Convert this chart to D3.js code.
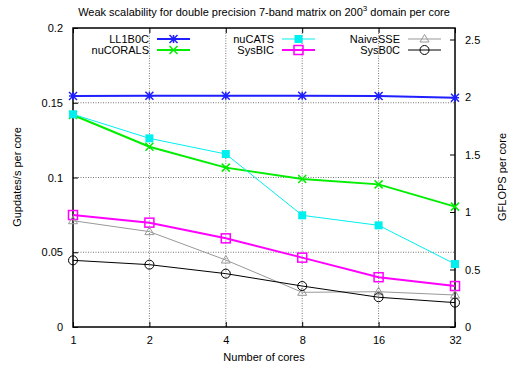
<!DOCTYPE html>
<html>
<head>
<meta charset="utf-8">
<script src="https://cdn.jsdelivr.net/npm/d3@7"></script>
<style>
  body { margin: 0; background: #fff; }
  svg { display: block; font-family: "Liberation Sans", Arial, sans-serif; }
</style>
</head>
<body>
<svg id="chart" width="508" height="367"></svg>
<script>
// Cores used in the weak scaling runs
const cores = [1, 2, 4, 8, 16, 32];

// Gupdates/s per core for each kernel
const ll1b0c   = [0.1545, 0.1547, 0.1547, 0.1547, 0.1545, 0.1534];
const nucorals = [0.1418, 0.1206, 0.1066, 0.0990, 0.0954, 0.0805];
const nucats   = [0.1423, 0.1262, 0.1157, 0.0747, 0.0680, 0.0421];
const sysbic   = [0.0749, 0.0698, 0.0593, 0.0464, 0.0333, 0.0274];
const naivesse = [0.0711, 0.0638, 0.0448, 0.0232, 0.0236, 0.0214];
const sysb0c   = [0.0446, 0.0417, 0.0357, 0.0274, 0.0199, 0.0163];

const leftTicks = [0, 0.05, 0.1, 0.15, 0.2];
const rightTicks = [0, 0.5, 1, 1.5, 2, 2.5];

const series = [
  { name: "LL1B0C",   values: ll1b0c,   color: "#1f1fff", width: 2,   marker: "star" },
  { name: "nuCORALS", values: nucorals, color: "#00ee00", width: 2,   marker: "cross" },
  { name: "nuCATS",   values: nucats,   color: "#00f0f0", width: 1,   marker: "fsquare" },
  { name: "SysBIC",   values: sysbic,   color: "#ff00ff", width: 2,   marker: "square" },
  { name: "NaiveSSE", values: naivesse, color: "#999999", width: 1,   marker: "triangle" },
  { name: "SysB0C",   values: sysb0c,   color: "#000000", width: 1,   marker: "circle" }
];

const svg = d3.select("#chart");
const L = 73, R = 455, T = 28, B = 327;

const x = d3.scaleLog().base(2).domain([1, 32]).range([L, R]);
const y = d3.scaleLinear().domain([0, 0.2]).range([B, T]);
const y2 = d3.scaleLinear().domain([0, 2.6]).range([B, T]);

// Grid lines (dotted)
const grid = svg.append("g").attr("stroke", "#777").attr("stroke-width", 1)
  .attr("stroke-dasharray", "1,1.5");
cores.slice(1, -1).forEach(c => {
  grid.append("line").attr("x1", x(c)).attr("x2", x(c)).attr("y1", T).attr("y2", B);
});
leftTicks.slice(1, -1).forEach(v => {
  grid.append("line").attr("x1", L).attr("x2", R).attr("y1", y(v)).attr("y2", y(v));
});

// Axes with inward ticks
const fontSize = 11;
const axB = svg.append("g").attr("transform", `translate(0,${B})`)
  .call(d3.axisBottom(x).tickValues(cores).tickFormat(d3.format("d")).tickSizeInner(-5).tickSizeOuter(0).tickPadding(9));
const axT = svg.append("g").attr("transform", `translate(0,${T})`)
  .call(d3.axisTop(x).tickValues(cores).tickFormat("").tickSizeInner(-5).tickSizeOuter(0));
const axL = svg.append("g").attr("transform", `translate(${L},0)`)
  .call(d3.axisLeft(y).tickValues(leftTicks).tickFormat(d => d === 0 ? "0" : String(d)).tickSizeInner(-5).tickSizeOuter(0).tickPadding(10));
const axR = svg.append("g").attr("transform", `translate(${R},0)`)
  .call(d3.axisRight(y2).tickValues(rightTicks).tickFormat(d => String(d)).tickSizeInner(-5).tickSizeOuter(0).tickPadding(10));

[axB, axT, axL, axR].forEach(a => {
  a.select(".domain").remove();
  a.selectAll("line").attr("stroke", "#000");
  a.selectAll("text").attr("font-size", fontSize).attr("font-family", "Liberation Sans, Arial, sans-serif").attr("fill", "#000");
});

// Plot border
svg.append("rect").attr("x", L).attr("y", T).attr("width", R - L).attr("height", B - T)
  .attr("fill", "none").attr("stroke", "#000").attr("stroke-width", 1.5);

// Marker drawing
function drawMarker(g, m, cx, cy, color) {
  const s = 4;
  if (m === "star") {
    const p = `M${cx - s},${cy}L${cx + s},${cy}M${cx},${cy - s}L${cx},${cy + s}M${cx - s},${cy - s}L${cx + s},${cy + s}M${cx - s},${cy + s}L${cx + s},${cy - s}`;
    g.append("path").attr("d", p).attr("stroke", color).attr("stroke-width", 1.5).attr("fill", "none");
  } else if (m === "cross") {
    const p = `M${cx - s},${cy - s}L${cx + s},${cy + s}M${cx - s},${cy + s}L${cx + s},${cy - s}`;
    g.append("path").attr("d", p).attr("stroke", color).attr("stroke-width", 1.5).attr("fill", "none");
  } else if (m === "fsquare") {
    g.append("rect").attr("x", cx - 4).attr("y", cy - 4).attr("width", 8).attr("height", 8).attr("fill", color);
  } else if (m === "square") {
    g.append("rect").attr("x", cx - 4.5).attr("y", cy - 4.5).attr("width", 9).attr("height", 9)
      .attr("fill", "none").attr("stroke", color).attr("stroke-width", 1.5);
  } else if (m === "triangle") {
    g.append("path").attr("d", `M${cx},${cy - 4.5}L${cx + 4.5},${cy + 3}L${cx - 4.5},${cy + 3}Z`)
      .attr("fill", "none").attr("stroke", color).attr("stroke-width", 1);
  } else if (m === "circle") {
    g.append("circle").attr("cx", cx).attr("cy", cy).attr("r", 4.5)
      .attr("fill", "none").attr("stroke", color).attr("stroke-width", 1);
  }
}

// Series lines and markers
const line = d3.line().x((d, i) => x(cores[i])).y(d => y(d));
series.forEach(s => {
  const g = svg.append("g");
  g.append("path").attr("d", line(s.values)).attr("fill", "none")
    .attr("stroke", s.color).attr("stroke-width", s.width);
  s.values.forEach((v, i) => drawMarker(g, s.marker, x(cores[i]), y(v), s.color));
});

// Legend: three columns of two entries
const legendCols = [149, 274, 400];
const legendRows = [39, 50];
series.forEach((s, i) => {
  const col = Math.floor(i / 2), row = i % 2;
  const tx = legendCols[col], ty = legendRows[row];
  const g = svg.append("g");
  g.append("text").attr("x", tx).attr("y", ty).attr("dy", "0.35em").attr("text-anchor", "end")
    .attr("font-size", fontSize).text(s.name);
  g.append("line").attr("x1", tx + 8).attr("x2", tx + 41).attr("y1", ty).attr("y2", ty)
    .attr("stroke", s.color).attr("stroke-width", s.width);
  drawMarker(g, s.marker, tx + 24.5, ty, s.color);
});

// Title
const title = svg.append("text").attr("x", 264).attr("y", 16).attr("text-anchor", "middle")
  .attr("font-size", fontSize);
title.append("tspan").text("Weak scalability for double precision 7-band matrix on 200");
title.append("tspan").attr("font-size", 8).attr("dy", -5).text("3");
title.append("tspan").attr("dy", 5).text(" domain per core");

// Axis labels
svg.append("text").attr("x", 264).attr("y", 361).attr("text-anchor", "middle")
  .attr("font-size", fontSize).text("Number of cores");
svg.append("text").attr("transform", "translate(21,177) rotate(-90)").attr("text-anchor", "middle")
  .attr("font-size", fontSize).text("Gupdates/s per core");
svg.append("text").attr("transform", "translate(506,177) rotate(-90)").attr("text-anchor", "middle")
  .attr("font-size", fontSize).text("GFLOPS per core");
</script>
</body>
</html>
